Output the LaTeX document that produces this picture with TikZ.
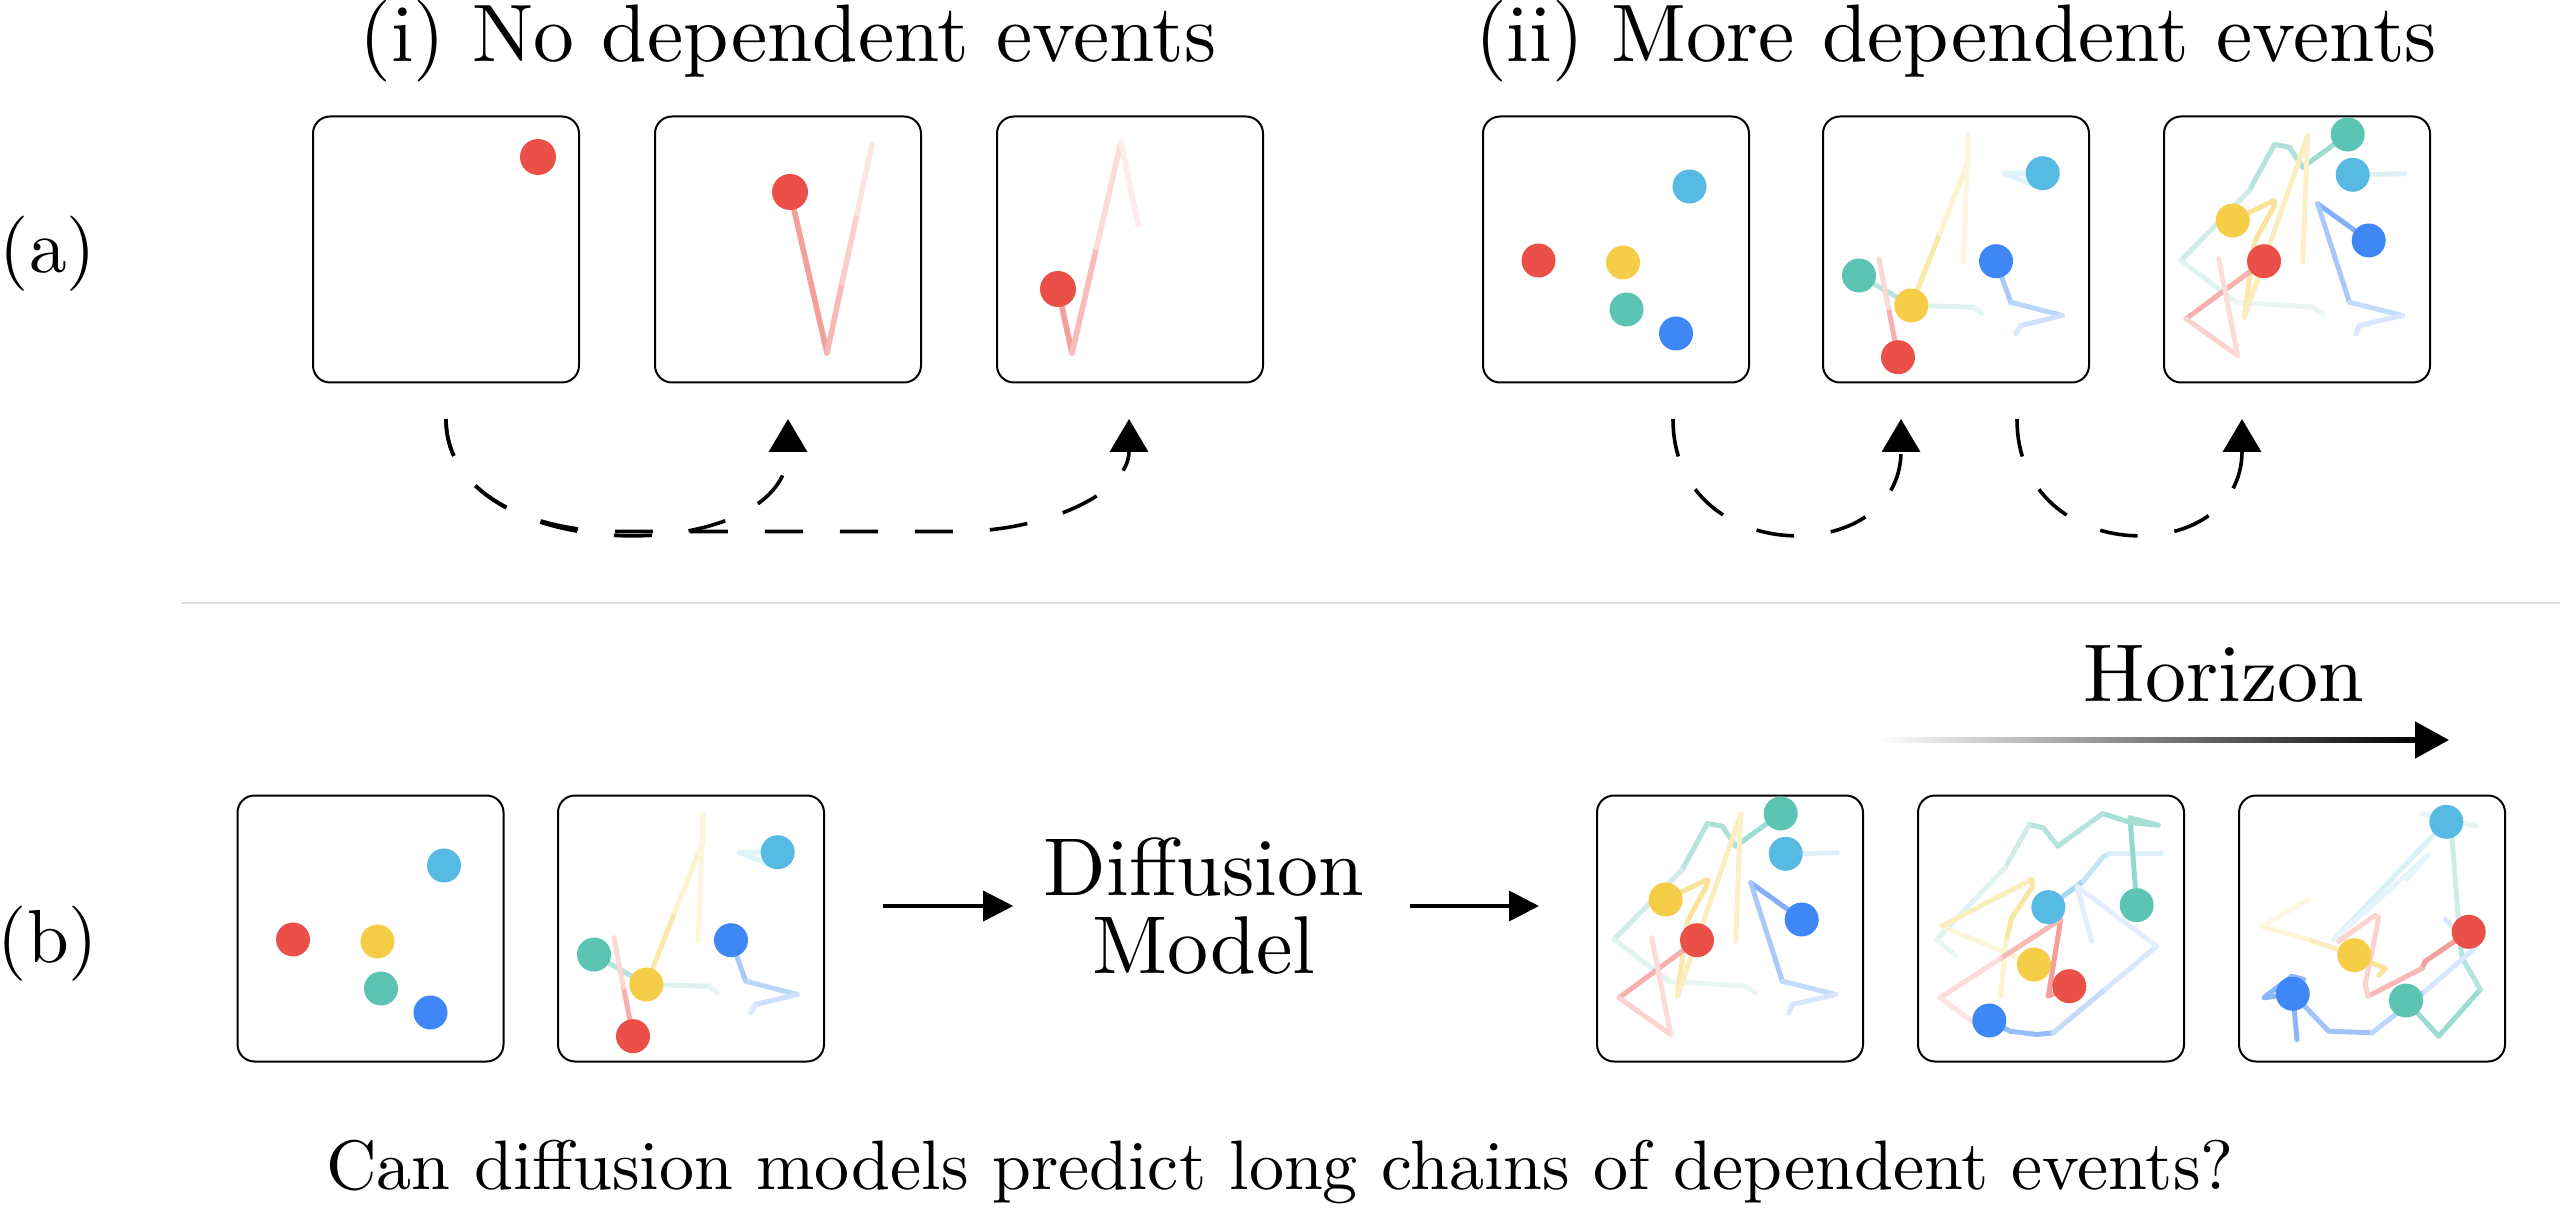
\documentclass[tikz,border=0pt]{standalone}
\usepackage{fontspec}
\setmainfont{lmroman10-regular.otf}
\usetikzlibrary{arrows.meta}

\definecolor{dotred}{RGB}{234,80,72}
\definecolor{dotyellow}{RGB}{246,205,71}
\definecolor{dotteal}{RGB}{91,196,178}
\definecolor{dotcyan}{RGB}{87,186,227}
\definecolor{dotblue}{RGB}{62,135,245}

\tikzset{every picture/.style={line width=0.75pt}}
\tikzset{
  panel/.style={draw, rounded corners=4.25pt, line width=0.5pt, minimum size=66.5pt, inner sep=0pt},
  trail/.style={line width=1.25pt, line cap=round, line join=round},
  lbl/.style={font=\fontsize{20}{24}\selectfont, inner sep=0pt},
  ttl/.style={lbl, font=\fontsize{20.4}{24}\selectfont},
  rowlbl/.style={lbl, font=\fontsize{18.8}{22}\selectfont},
  capt/.style={lbl, font=\fontsize{17.5}{21}\selectfont},
  dasharrow/.style={dash pattern=on 9.5pt off 9.25pt, line width=0.9pt, -{Triangle[length=8.25pt,width=9.5pt]}},
  flowarrow/.style={line width=0.9pt, -{Triangle[length=7.5pt,width=7.5pt]}},
  sepline/.style={draw=black!12, line width=0.5pt},
  %% start: five dots, no trails
  statezero/.pic={
    \fill[dotcyan] (207.5,71) circle[radius=17];
    \fill[dotred] (56.5,145) circle[radius=17];
    \fill[dotyellow] (141,147) circle[radius=17];
    \fill[dotteal] (144.5,194) circle[radius=17];
    \fill[dotblue] (194,218) circle[radius=17];
  },
  %% one step later
  stateone/.pic={
    \draw[trail, dotcyan!18] (220.7,57.7) -- (182,57.7) -- (212,70);
    \draw[trail, dotblue!45] (174,145.7) -- (188.7,186.7);
    \draw[trail, dotblue!35] (188.7,186.7) -- (240.3,200);
    \draw[trail, dotblue!25] (240.3,200) -- (198.7,210);
    \draw[trail, dotblue!18] (198.7,210) -- (193.7,218.3);
    \draw[trail, dotteal!45] (37,160) -- (89.3,190);
    \draw[trail, dotteal!20] (89.3,190) -- (152,191.7);
    \draw[trail, dotteal!15] (152,191.7) -- (160.3,198.3);
    \draw[trail, dotyellow!45] (89.3,190) -- (117.6,118.3);
    \draw[trail, dotyellow!25] (117.6,118.3) -- (146,46.7);
    \draw[trail, dotyellow!18] (146,46.7) -- (146,20) -- (141.3,146.7);
    \draw[trail, dotred!45] (76,241.7) -- (66.5,192.5);
    \draw[trail, dotred!22] (66.5,192.5) -- (57,143.3);
    \fill[dotcyan] (220.7,57.7) circle[radius=17];
    \fill[dotblue] (174,145.7) circle[radius=17];
    \fill[dotteal] (37,160) circle[radius=17];
    \fill[dotyellow] (89.3,190) circle[radius=17];
    \fill[dotred] (76,241.7) circle[radius=17];
  },
  %% two steps later
  statetwo/.pic={
    \draw[trail, dotteal!60] (184.7,19) -- (139.7,51.7);
    \draw[trail, dotteal!50] (139.7,51.7) -- (126.3,31.7) -- (111.3,29);
    \draw[trail, dotteal!45] (111.3,29) -- (86.3,75);
    \draw[trail, dotteal!30] (86.3,75) -- (18,145);
    \draw[trail, dotteal!18] (18,145) -- (73,186.7);
    \draw[trail, dotteal!14] (73,186.7) -- (149.7,191.7) -- (159.7,198.3);
    \draw[trail, dotcyan!20] (189.7,59.3) -- (241.3,58.3);
    \draw[trail, dotyellow!55] (69.7,105) -- (111.3,85) -- (111.3,90) -- (91.3,126.7);
    \draw[trail, dotyellow!45] (91.3,126.7) -- (81.3,201.7);
    \draw[trail, dotyellow!35] (81.3,201.7) -- (144.7,20);
    \draw[trail, dotyellow!30] (144.7,20) -- (139.7,146.7);
    \draw[trail, dotblue!65] (205.7,125) -- (154.7,88.3);
    \draw[trail, dotblue!45] (154.7,88.3) -- (186.3,186.7);
    \draw[trail, dotblue!30] (186.3,186.7) -- (239.7,200);
    \draw[trail, dotblue!20] (239.7,200) -- (196.3,210) -- (193,218.3);
    \draw[trail, dotred!45] (101,145.7) -- (23,203.3);
    \draw[trail, dotred!25] (23,203.3) -- (74.7,240);
    \draw[trail, dotred!20] (74.7,240) -- (55.7,143.3);
    \fill[dotteal] (184.7,19) circle[radius=17];
    \fill[dotcyan] (189.7,59.3) circle[radius=17];
    \fill[dotyellow] (69.7,105) circle[radius=17];
    \fill[dotblue] (205.7,125) circle[radius=17];
    \fill[dotred] (101,145.7) circle[radius=17];
  },
  %% predicted, short horizon
  statethree/.pic={
    \draw[trail, dotcyan!55] (131.3,112.7) -- (166.3,86.7);
    \draw[trail, dotcyan!35] (166.3,86.7) -- (185.7,62.7) -- (192.3,59);
    \draw[trail, dotcyan!20] (192.3,59) -- (244.7,59);
    \draw[trail, dotteal!65] (219.7,110.7) -- (213,23.3);
    \draw[trail, dotteal!55] (213,23.3) -- (241.3,30.7) -- (213,28) -- (185.7,19);
    \draw[trail, dotteal!45] (185.7,19) -- (140.7,51.7) -- (126.3,33.3) -- (112.3,30);
    \draw[trail, dotteal!30] (112.3,30) -- (88,73.3);
    \draw[trail, dotteal!20] (88,73.3) -- (19.7,145);
    \draw[trail, dotteal!14] (19.7,145) -- (38,160.7);
    \draw[trail, dotyellow!20] (117,170) -- (24.7,131.7);
    \draw[trail, dotyellow!35] (24.7,131.7) -- (114.7,85);
    \draw[trail, dotyellow!50] (114.7,85) -- (115.7,91.7) -- (94.7,123.3) -- (89,146.7);
    \draw[trail, dotyellow!25] (89,146.7) -- (83.7,201.7);
    \draw[trail, dotred!55] (152.3,191.7) -- (131.3,201.7) -- (143.7,125);
    \draw[trail, dotred!40] (143.7,125) -- (83.3,164.2);
    \draw[trail, dotred!20] (83.3,164.2) -- (23,203.3);
    \draw[trail, dotred!15] (23,203.3) -- (73,240);
    \draw[trail, dotblue!55] (72.3,226) -- (93,236.7) -- (119.7,240) -- (136.3,238.3);
    \draw[trail, dotblue!30] (136.3,238.3) -- (188,195);
    \draw[trail, dotblue!20] (188,195) -- (239.7,151.7);
    \draw[trail, dotblue!15] (239.7,151.7) -- (159.7,91.7) -- (174.7,146.7);
    \fill[dotcyan] (131.3,112.7) circle[radius=17];
    \fill[dotteal] (219.7,110.7) circle[radius=17];
    \fill[dotyellow] (117,170) circle[radius=17];
    \fill[dotred] (152.3,191.7) circle[radius=17];
    \fill[dotblue] (72.3,226) circle[radius=17];
  },
  %% predicted, long horizon
  statefour/.pic={
    \draw[trail, dotcyan!22] (208.3,27.3) -- (95.7,145);
    \draw[trail, dotcyan!15] (95.7,145) -- (190.7,60) -- (169,85);
    \draw[trail, dotteal!60] (168,206) -- (200.7,241.7) -- (242.3,195);
    \draw[trail, dotteal!45] (242.3,195) -- (224,163.3) -- (222.3,150);
    \draw[trail, dotteal!30] (222.3,150) -- (214,43.3);
    \draw[trail, dotteal!15] (184,19.3) -- (239,31.7);
    \draw[trail, dotred!55] (230.7,137.3) -- (187.3,166.7) -- (184,174);
    \draw[trail, dotred!40] (184,174) -- (130,201.7);
    \draw[trail, dotred!25] (130,201.7) -- (127.3,190) -- (140.7,123.3) -- (137.3,120.7) -- (100.7,146.7);
    \draw[trail, dotyellow!55] (116.3,160.7) -- (147.3,174) -- (140.7,180.7);
    \draw[trail, dotyellow!35] (116.3,160.7) -- (70,145);
    \draw[trail, dotyellow!22] (70,145) -- (24,131.7);
    \draw[trail, dotyellow!15] (24,131.7) -- (70.7,105);
    \draw[trail, dotblue!60] (54.7,199.3) -- (59,245);
    \draw[trail, dotblue!60] (54.7,199.3) -- (25.7,203.3) -- (54,181.7) -- (65.7,185);
    \draw[trail, dotblue!50] (54.7,199.3) -- (90.7,236.7) -- (134,238.3);
    \draw[trail, dotblue!35] (134,238.3) -- (187.3,196.7);
    \draw[trail, dotblue!20] (187.3,196.7) -- (237.3,153.3) -- (207.3,125);
    \fill[dotcyan] (208.3,27.3) circle[radius=17];
    \fill[dotteal] (168,206) circle[radius=17];
    \fill[dotred] (230.7,137.3) circle[radius=17];
    \fill[dotyellow] (116.3,160.7) circle[radius=17];
    \fill[dotblue] (54.7,199.3) circle[radius=17];
  },
}

\begin{document}
\begin{tikzpicture}[x=0.25pt,y=0.25pt,yscale=-1,xscale=1]
\useasboundingbox (0,0) rectangle (2560,1229);

% Titles and row labels
\node[ttl] (ttlone) at (788,41) {(i) No dependent events};
\node[ttl] (ttltwo) at (1956,41) {(ii) More dependent events};
\node[rowlbl] (rowa) at (48,254) {(a)};
\node[rowlbl] (rowb) at (48,944) {(b)};

% Panels, row (a)
\node[panel] (a1) at (446,249.5) {};
\node[panel] (a2) at (788,249.5) {};
\node[panel] (a3) at (1130,249.5) {};
\node[panel] (a4) at (1616,249.5) {};
\node[panel] (a5) at (1956,249.5) {};
\node[panel] (a6) at (2297,249.5) {};

% single red event
\fill[dotred] (538,157) circle[radius=18];
\draw[trail, line width=1.4pt, dotred!55] (790,192) -- (827,353);
\draw[trail, line width=1.4pt, dotred!40] (827,353) -- (842,283);
\draw[trail, line width=1.4pt, dotred!28] (842,283) -- (857,214);
\draw[trail, line width=1.4pt, dotred!15] (857,214) -- (872,144);
\fill[dotred] (790,192) circle[radius=18];
\draw[trail, line width=1.4pt, dotred!55] (1058,289) -- (1072,353);
\draw[trail, line width=1.4pt, dotred!38] (1072,353) -- (1096.5,247.5);
\draw[trail, line width=1.4pt, dotred!20] (1096.5,247.5) -- (1121,142);
\draw[trail, line width=1.4pt, dotred!11] (1121,142) -- (1138,225);
\fill[dotred] (1058,289) circle[radius=18];

% several dependent events
\pic[transform shape] at (a4.north west) {statezero};
\pic[transform shape] at (a5.north west) {stateone};
\pic[transform shape] at (a6.north west) {statetwo};

% dashed arrows below row (a)
\coordinate (a1s) at (446,419);
\coordinate (a2t) at (788,419);
\coordinate (a3t) at (1129,419);
\coordinate (a4s) at (1673,419);
\coordinate (a5t) at (1901,419);
\coordinate (a5s) at (2017,419);
\coordinate (a6t) at (2242,419);
\draw[dasharrow] (a1s) .. controls (446,569) and (788,569) .. (a2t);
\draw[dasharrow] (a1s) .. controls (446,494) and (531.5,531.5) .. (617,531.5) -- (958,531.5) .. controls (1043.5,531.5) and (1129,494) .. (a3t);
\draw[dasharrow] (a4s) .. controls (1673,569) and (1901,569) .. (a5t);
\draw[dasharrow] (a5s) .. controls (2017,569) and (2242,569) .. (a6t);

% separator
\coordinate (sepl) at (181,603);
\coordinate (sepr) at (2560,603);
\draw[sepline] (sepl) -- (sepr);

% Panels, row (b)
\node[panel] (b1) at (370.5,928.5) {};
\node[panel] (b2) at (691,928.5) {};
\node[panel] (b3) at (1730,928.5) {};
\node[panel] (b4) at (2051,928.5) {};
\node[panel] (b5) at (2372,928.5) {};
\pic[transform shape] at (b1.north west) {statezero};
\pic[transform shape] at (b2.north west) {stateone};
\pic[transform shape] at (b3.north west) {statetwo};
\pic[transform shape] at (b4.north west) {statethree};
\pic[transform shape] at (b5.north west) {statefour};

% model in the middle
\node[lbl, align=center, font=\fontsize{20.5}{19.6}\selectfont] (diff) at (1204,906) {Diffusion\\Model};
\draw[flowarrow, shorten <=14.5pt, shorten >=7.25pt] (b2.east |- diff.west) -- (diff.west);
\draw[flowarrow, shorten <=11pt, shorten >=14.25pt] (diff.east) -- (diff.east -| b3.west);

% horizon
\node[lbl, font=\fontsize{20.5}{24}\selectfont] (hz) at (2224,674) {Horizon};
\coordinate (hzs) at (1878,740);
\coordinate (hzm) at (2415,740);
\coordinate (hze) at (2449,740);
\shade[left color=white, right color=black] (1878,737.5) rectangle (2418,742.5);
\draw[flowarrow, line width=1.25pt, -{Triangle[length=8.5pt,width=9pt]}] (hzm) -- (hze);

% caption
\node[capt] (cap) at (1280,1172) {Can diffusion models predict long chains of dependent events?};

\end{tikzpicture}
\end{document}
